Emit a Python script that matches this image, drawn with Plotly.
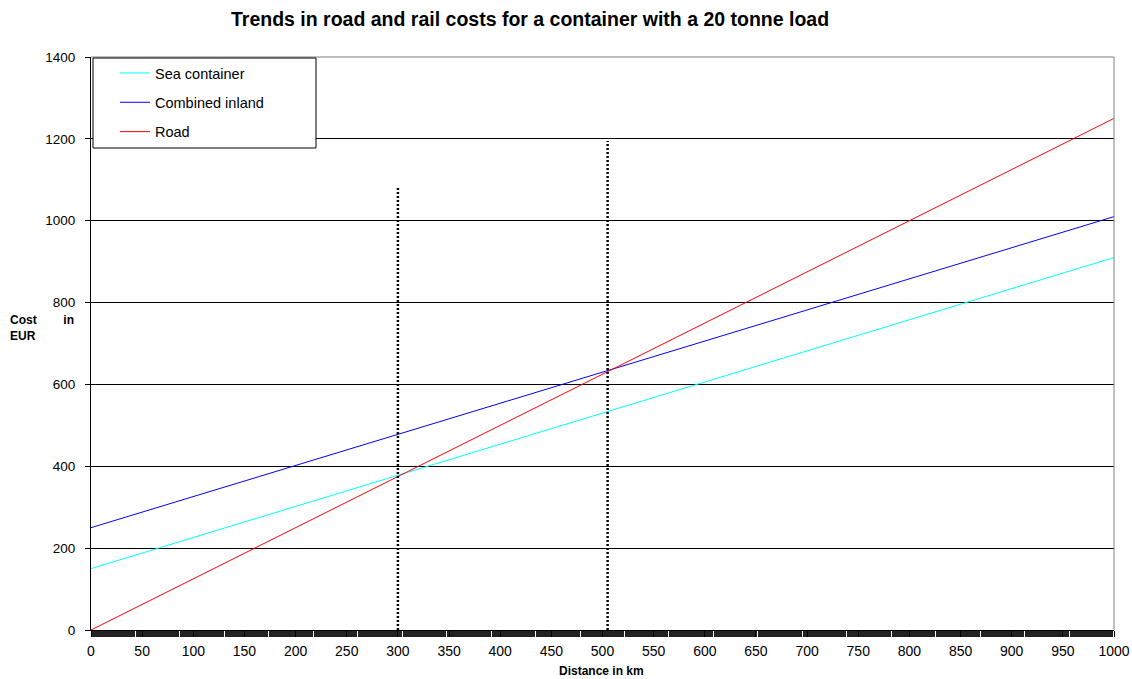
import plotly.graph_objects as go

# Distance in km and cost in EUR for each transport mode
distance_km = [0, 1000]
sea_container = [150, 910]
combined_inland = [250, 1010]
road = [0, 1250]

# Break-even markers (distance, height of the dotted marker)
breakeven_km = [300, 505]
breakeven_top = [1080, 1195]

FONT = "Liberation Sans, Arial, sans-serif"
W, H = 1132, 679
ML, MR, MT, MB = 91, 18, 57, 49
plot_w = W - ML - MR
plot_h = H - MT - MB


def px_x(px):
    return (px - ML) / plot_w


def px_y(py):
    return 1 - (py - MT) / plot_h


fig = go.Figure()

series = [("Sea container", sea_container, "#00FFFF"),
          ("Combined inland", combined_inland, "#0000FF"),
          ("Road", road, "#FF0000")]
for name, values, color in series:
    fig.add_trace(go.Scatter(x=distance_km, y=values, mode="lines", name=name,
                             legendgroup=name, line=dict(color=color, width=1)))

for xk, top in zip(breakeven_km, breakeven_top):
    fig.add_trace(go.Scatter(x=[xk, xk], y=[0, top], mode="lines", showlegend=False,
                             line=dict(color="black", width=2.5, dash="2px,2px"),
                             hoverinfo="skip"))

fig.update_layout(
    width=W, height=H,
    margin=dict(l=ML, r=MR, t=MT, b=MB, autoexpand=False),
    paper_bgcolor="white", plot_bgcolor="white",
    font=dict(family=FONT, size=12, color="black"),
    showlegend=True,
    legend=dict(x=px_x(115), y=px_y(57), xanchor="left", yanchor="top",
                bgcolor="rgba(0,0,0,0)", borderwidth=0,
                font=dict(size=14.5), tracegroupgap=7.5, itemwidth=30),
    annotations=[
        dict(text="<b>Trends in road and rail costs for a container with a 20 tonne load</b>",
             x=px_x(530), y=px_y(19), xref="paper", yref="paper", showarrow=False,
             font=dict(size=19.5), yanchor="middle"),
        dict(text="<b>Distance in km</b>", x=px_x(601), y=px_y(671), xref="paper",
             yref="paper", showarrow=False, font=dict(size=12), yanchor="middle"),
        dict(text="<b>Cost&nbsp;&nbsp;&nbsp;&nbsp;&nbsp;&nbsp;&nbsp;&nbsp;in<br>EUR</b>",
             x=px_x(8), y=px_y(328), xref="paper", yref="paper", showarrow=False,
             font=dict(size=12), align="left", xanchor="left", yanchor="middle"),
    ],
)

fig.update_xaxes(
    range=[0, 1000], tickmode="linear", tick0=0, dtick=50,
    ticks="outside", ticklen=6, tickwidth=1, tickcolor="black",
    minor=dict(dtick=1, ticks="outside", ticklen=6, tickwidth=1.3, tickcolor="#222"),
    showgrid=False, zeroline=False, showline=True, linecolor="black", linewidth=1,
    mirror=False, tickfont=dict(size=14), ticklabelstandoff=2, automargin=False,
)
fig.update_yaxes(
    range=[0, 1400], tickmode="linear", tick0=0, dtick=200,
    ticks="outside", ticklen=5, tickcolor="black",
    showgrid=True, gridcolor="black", gridwidth=1,
    zeroline=False, showline=True, linecolor="black", linewidth=1,
    tickfont=dict(size=13.5), ticklabelstandoff=7, automargin=False,
)

# grey frame on top and right of the plot area
fig.add_shape(type="line", xref="paper", yref="paper", x0=0, x1=1, y0=1, y1=1,
              line=dict(color="#808080", width=1))
fig.add_shape(type="line", xref="paper", yref="paper", x0=1, x1=1, y0=0, y1=1,
              line=dict(color="#808080", width=1))
# legend box, white-filled so it covers the grid behind it
fig.add_shape(type="rect", xref="paper", yref="paper", layer="above",
              x0=px_x(93), x1=px_x(316), y0=px_y(148), y1=px_y(58),
              line=dict(color="black", width=1), fillcolor="white")

fig.write_html("out.html")
